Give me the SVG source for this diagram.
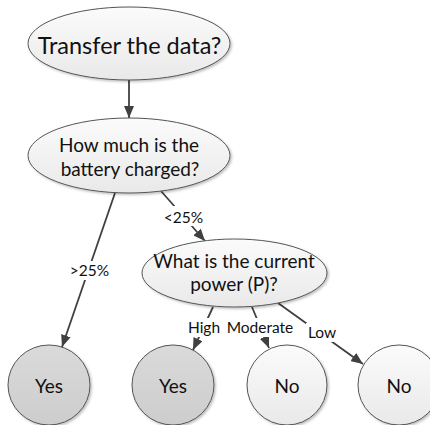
<svg xmlns="http://www.w3.org/2000/svg" width="430" height="425" viewBox="0 0 430 425">
  <defs>
    <linearGradient id="gLight" x1="0" y1="0" x2="0" y2="1">
      <stop offset="0" stop-color="#fbfbfb"/>
      <stop offset="1" stop-color="#e9e9e9"/>
    </linearGradient>
    <linearGradient id="gDark" x1="0" y1="0" x2="0" y2="1">
      <stop offset="0" stop-color="#dadada"/>
      <stop offset="1" stop-color="#cdcdcd"/>
    </linearGradient>
    <filter id="shadow" x="-10%" y="-10%" width="125%" height="130%">
      <feDropShadow dx="1.5" dy="1.5" stdDeviation="1" flood-color="#000" flood-opacity="0.25"/>
    </filter>
    <marker id="arrow" viewBox="0 0 12 10" refX="12" refY="5" markerWidth="12" markerHeight="10" markerUnits="userSpaceOnUse" orient="auto">
      <path d="M0,0 L12,5 L0,10 z" fill="#404040"/>
    </marker>
  </defs>
  <style>
    .node { stroke: #555; stroke-width: 1; filter: url(#shadow); }
    .light { fill: url(#gLight); }
    .dark { fill: url(#gDark); }
    .t { font-family: Lato, "Liberation Sans", sans-serif; fill: #111; text-anchor: middle; }
    .big { font-size: 23.5px; }
    .mid { font-size: 19px; }
    .lbl { font-family: Lato, "Liberation Sans", sans-serif; font-size: 15.5px; fill: #111; text-anchor: middle; }
    .edge { stroke: #404040; stroke-width: 1.8; fill: none; marker-end: url(#arrow); }
    .bg { fill: #fff; }
  </style>

  <g id="connectors">
    <line class="edge" x1="129" y1="80" x2="129" y2="118"/>
    <line class="edge" x1="115" y1="193" x2="62" y2="347"/>
    <line class="edge" x1="161" y1="191" x2="205" y2="241"/>
    <line class="edge" x1="213" y1="307" x2="193" y2="350"/>
    <line class="edge" x1="252" y1="307" x2="269" y2="348"/>
    <line class="edge" x1="278" y1="303" x2="363" y2="364"/>
    <rect class="bg" x="70" y="261" width="39" height="19"/>
    <text class="lbl" x="89.5" y="275.5">&gt;25%</text>
    <rect class="bg" x="163" y="206" width="41" height="20"/>
    <text class="lbl" x="183.5" y="222.5">&lt;25%</text>
    <rect class="bg" x="188" y="318" width="33" height="19"/>
    <text class="lbl" x="204" y="332.5">High</text>
    <rect class="bg" x="226" y="318" width="68" height="19"/>
    <text class="lbl" x="260" y="332.5">Moderate</text>
    <rect class="bg" x="306" y="323" width="32" height="19"/>
    <text class="lbl" x="322" y="337.5">Low</text>
  </g>

  <g id="n-transfer">
    <ellipse class="node light" cx="129" cy="43.5" rx="101" ry="36.5"/>
    <text class="t big" x="129.5" y="53.5">Transfer the data?</text>
  </g>
  <g id="n-battery">
    <ellipse class="node light" cx="129" cy="155.5" rx="101" ry="37.5"/>
    <text class="t mid" x="129" y="152">How much is the</text>
    <text class="t mid" x="130" y="175.5">battery charged?</text>
  </g>
  <g id="n-power">
    <ellipse class="node light" cx="234.5" cy="273" rx="92.5" ry="34"/>
    <text class="t mid" x="234" y="268">What is the current</text>
    <text class="t mid" x="234" y="290.5">power (P)?</text>
  </g>
  <g id="n-yes1">
    <ellipse class="node dark" cx="49" cy="385" rx="41" ry="40"/>
    <text class="t mid" x="49" y="392.5">Yes</text>
  </g>
  <g id="n-yes2">
    <ellipse class="node dark" cx="173" cy="385" rx="41" ry="40"/>
    <text class="t mid" x="173" y="392.5">Yes</text>
  </g>
  <g id="n-no1">
    <ellipse class="node light" cx="287" cy="385" rx="40" ry="40"/>
    <text class="t mid" x="287" y="392.5">No</text>
  </g>
  <g id="n-no2">
    <ellipse class="node light" cx="399" cy="385" rx="41" ry="40"/>
    <text class="t mid" x="399" y="392.5">No</text>
  </g>
</svg>
